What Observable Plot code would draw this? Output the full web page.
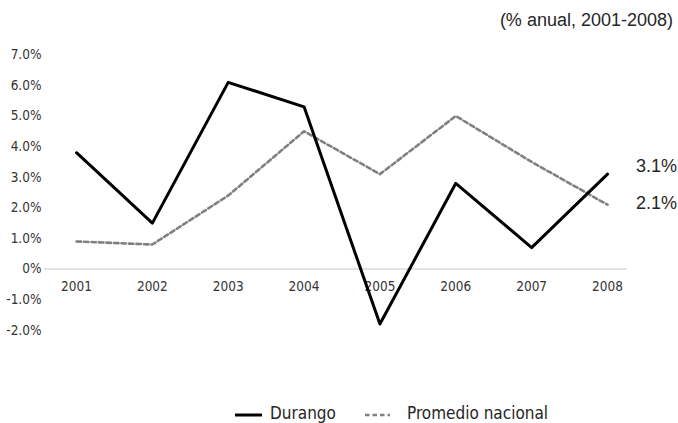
<!DOCTYPE html>
<html>
<head>
<meta charset="utf-8">
<script src="https://cdn.jsdelivr.net/npm/d3@7"></script>
<script src="https://cdn.jsdelivr.net/npm/@observablehq/plot@0.6"></script>
<style>
  html, body { margin: 0; padding: 0; background: #fff; }
  #wrap { position: relative; width: 678px; height: 423px; overflow: hidden; }
  #subtitle { height: 32px; font-family: "Liberation Sans", Arial, sans-serif; font-size: 18px; color: #262626; text-align: right; padding-right: 5px; line-height: 40px; box-sizing: border-box; }
  #chart svg { display: block; }
  #legend { position: absolute; left: 0; top: 403px; width: 678px; height: 20px; font-family: "Liberation Sans Narrow", "DejaVu Sans Condensed", sans-serif; font-size: 17px; color: #262626; }
  .item { position: absolute; top: 0; height: 20px; line-height: 20px; white-space: nowrap; }
</style>
</head>
<body>
<div id="wrap">
  <div id="subtitle"></div>
  <div id="chart"></div>
  <div id="legend"></div>
</div>
<script>
const years = [2001, 2002, 2003, 2004, 2005, 2006, 2007, 2008];
const durango = [3.8, 1.5, 6.1, 5.3, -1.8, 2.8, 0.7, 3.1];
const promedio = [0.9, 0.8, 2.4, 4.5, 3.1, 5.0, 3.5, 2.1];
const yTicks = [-2, -1, 0, 1, 2, 3, 4, 5, 6, 7];
const seriesNames = ["Durango", "Promedio nacional"];
const subtitleText = "(% anual, 2001-2008)";

document.getElementById("subtitle").textContent = subtitleText;

const dData = years.map((y, i) => ({year: y, value: durango[i]}));
const pData = years.map((y, i) => ({year: y, value: promedio[i]}));
const fmt = d => d === 0 ? "0%" : d.toFixed(1) + "%";
const narrow = '"Liberation Sans Narrow", "DejaVu Sans Condensed", sans-serif';
const regular = '"Liberation Sans", Arial, sans-serif';

const chart = Plot.plot({
  width: 678,
  height: 373,
  marginLeft: 44,
  marginRight: 51,
  marginTop: 22.3,
  marginBottom: 75.3,
  x: {type: "linear", domain: [2001, 2008], insetLeft: 32, insetRight: 20, axis: null},
  y: {domain: [-2, 7], axis: null, label: null},
  style: {fontFamily: narrow, background: "#fff", overflow: "visible"},
  marks: [
    Plot.ruleY([0], {stroke: "#d9d9d9", strokeWidth: 1.5}),
    Plot.axisY({ticks: yTicks, tickSize: 0, tickPadding: 3, tickFormat: fmt, label: null, fontSize: 13.5, fill: "#333", fontFamily: narrow}),
    Plot.text(years, {x: d => d, y: () => 0, text: d => String(d), dy: 17.5, fontSize: 13.5, fill: "#333", fontFamily: narrow}),
    Plot.line(pData, {x: "year", y: "value", stroke: "#808080", strokeWidth: 2.6, strokeDasharray: "4.5,3"}),
    Plot.line(dData, {x: "year", y: "value", stroke: "#000", strokeWidth: 3}),
    Plot.text(dData.slice(-1), {x: "year", y: "value", text: d => d.value.toFixed(1) + "%", dx: 28.5, dy: -8, textAnchor: "start", fontSize: 18, fill: "#262626", fontFamily: regular}),
    Plot.text(pData.slice(-1), {x: "year", y: "value", text: d => d.value.toFixed(1) + "%", dx: 28.5, dy: -2, textAnchor: "start", fontSize: 18, fill: "#262626", fontFamily: regular})
  ]
});
document.getElementById("chart").appendChild(chart);

// legend
const legend = document.getElementById("legend");
const items = [
  {name: seriesNames[0], left: 235, sw: 27, textLeft: 270, stroke: "#000", width: 3, dash: null},
  {name: seriesNames[1], left: 365, sw: 25, textLeft: 407, stroke: "#808080", width: 2.6, dash: "4.5,3"}
];
items.forEach(it => {
  const ns = "http://www.w3.org/2000/svg";
  const s = document.createElementNS(ns, "svg");
  s.setAttribute("width", it.sw);
  s.setAttribute("height", 20);
  s.style.position = "absolute";
  s.style.left = it.left + "px";
  s.style.top = "0px";
  const l = document.createElementNS(ns, "line");
  l.setAttribute("x1", 0); l.setAttribute("x2", it.sw);
  l.setAttribute("y1", 12); l.setAttribute("y2", 12);
  l.setAttribute("stroke", it.stroke);
  l.setAttribute("stroke-width", it.width);
  if (it.dash) l.setAttribute("stroke-dasharray", it.dash);
  s.appendChild(l);
  legend.appendChild(s);
  const t = document.createElement("div");
  t.className = "item";
  t.style.left = it.textLeft + "px";
  t.textContent = it.name;
  legend.appendChild(t);
});
</script>
</body>
</html>
